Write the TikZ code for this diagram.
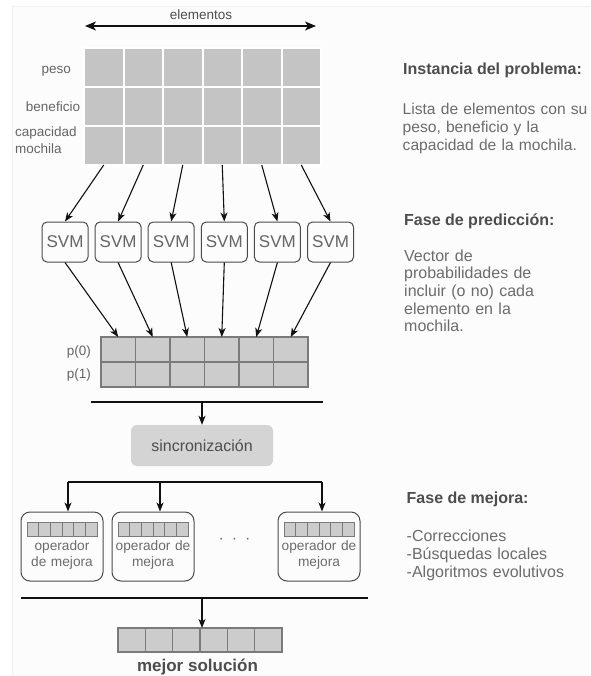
\documentclass[tikz,border=0pt]{standalone}
\usepackage{fontspec}
\setmainfont{Liberation Sans}
\usetikzlibrary{arrows.meta,calc}

\definecolor{gridfill}{HTML}{C4C4C4}
\definecolor{probfill}{HTML}{CCCCCC}
\definecolor{probline}{HTML}{7A7A7A}
\definecolor{syncfill}{HTML}{D4D4D4}
\definecolor{boxline}{HTML}{4A4A4A}
\definecolor{headtext}{HTML}{4D4D4D}
\definecolor{bodytext}{HTML}{6C6C6C}
\definecolor{labeltext}{HTML}{656565}
\definecolor{wire}{HTML}{111111}

\newcommand\setfs[2]{\fontsize{#1}{#2}\selectfont}

\begin{document}
\begin{tikzpicture}[x=1pt,y=-1pt,
  arr/.style={draw=wire,line width=1.1pt,-{Stealth[length=9pt,width=7pt,inset=2.5pt]}},
  bar/.style={draw=wire,line width=1.1pt},
  gcell/.style={fill=gridfill,draw=white,line width=2pt,minimum width=39.5pt,
    minimum height=39pt,inner sep=0pt,outer sep=0pt},
  pcell/.style={fill=probfill,draw=probline,line width=1.4pt,minimum width=34.5pt,
    minimum height=25pt,inner sep=0pt,outer sep=0pt},
  scell/.style={fill=probfill,draw=probline,line width=1.4pt,minimum width=27.33pt,
    minimum height=24pt,inner sep=0pt,outer sep=0pt},
  mini/.style={fill=probfill,draw=probline,line width=1pt},
  svmbox/.style={draw=boxline,line width=1pt,rounded corners=5pt,minimum width=46pt,
    minimum height=40pt,inner sep=0pt,text=labeltext,font=\setfs{17}{20}},
  opbox/.style={draw=boxline,line width=1pt,rounded corners=9pt,minimum width=82pt,
    minimum height=69pt,inner sep=0pt},
  optext/.style={text=bodytext,font=\setfs{13.7}{16},text width=90pt,align=center,
    inner sep=0pt,anchor=base},
  lbl/.style={text=labeltext,font=\setfs{13.5}{16.6},inner sep=0pt},
  head/.style={text=headtext,font=\bfseries\setfs{16}{18},inner sep=0pt,anchor=base west},
  body/.style={text=bodytext,font=\setfs{16}{18},inner sep=0pt,anchor=base west,
    text width=200pt,align=left},
]
\useasboundingbox (0,0) rectangle (590,676);
% faint page panel
\fill[black!1] (12,6) rectangle (590,676);
\draw[black!6,line width=0.8pt] (12,676) -- (12,6) -- (590,6);

% ---------- problem instance ----------
\node[lbl,anchor=base,text=headtext] (elem) at (201,20) {elementos};
\coordinate (elemL) at (85,26);
\coordinate (elemR) at (316,26);
\draw[draw=wire,line width=1.5pt,
  {Stealth[length=11pt,width=9pt,inset=3pt]}-{Stealth[length=11pt,width=9pt,inset=3pt]}]
  (elemL) -- (elemR);

\foreach \r in {1,2,3}{
  \foreach \c in {1,...,6}{
    \node[gcell] (g\r-\c) at ({84+39.5*(\c-0.5)},{48+39*(\r-0.5)}) {};
  }
}
\node[lbl,anchor=base] (lpeso) at (56.3,74) {peso};
\node[lbl,anchor=base] (lben) at (53,111.7) {beneficio};
\node[lbl,anchor=base west,text width=80pt,align=left] (lcap) at (15,136.7)
  {capacidad\\mochila};

% ---------- prediction ----------
\foreach \c in {1,...,6}{
  \node[svmbox] (svm\c) at ({65+53.1*(\c-1)},242) {SVM};
  \draw[arr] (g3-\c.south) -- (svm\c.north);
}

\foreach \c in {1,...,6}{
  \node[pcell] (pa\c) at ({101+34.5*(\c-0.5)},349.5) {};
  \node[pcell] (pb\c) at ({101+34.5*(\c-0.5)},374.5) {};
  \draw[arr] (svm\c.south) -- (pa\c.north);
}
\node[lbl,anchor=base east] (lp0) at (91,355) {p(0)};
\node[lbl,anchor=base east] (lp1) at (91,378.5) {p(1)};

% ---------- synchronisation ----------
\coordinate (b1w) at (91,402);
\coordinate (b1e) at (323,402);
\draw[bar] (b1w) -- (b1e);
\node[fill=syncfill,rounded corners=6pt,minimum width=142pt,minimum height=41pt,
  inner sep=0pt,text=headtext,font=\setfs{16}{18}] (sync) at (202,445.5)
  {sincronización};
\draw[arr] (b1w -| sync.north) -- (sync.north);

% ---------- improvement ----------
\coordinate (b2w) at (68,482);
\coordinate (b2m) at (160,482);
\coordinate (b2e) at (322,482);
\draw[bar] (b2w) -- (b2e);

\node[opbox] (op1) at (62,546.5) {};
\node[opbox] (op2) at (153,546.5) {};
\node[opbox] (op3) at (319,546.5) {};
\draw[arr] (b2w) -- (b2w |- op1.north);
\draw[arr] (b2m) -- (b2m |- op2.north);
\draw[arr] (b2e) -- (b2e |- op3.north);

\foreach \b in {op1,op2,op3}{
  \foreach \i in {0,...,5}{
    \draw[mini] ($(\b.center)+({-35+\i*11.667},-24.5)$) rectangle ++(11.667,14);
  }
}
\node[optext] (op1t) at (62,550) {operador\\de mejora};
\node[optext] (op2t) at (153,550) {operador de\\mejora};
\node[optext] (op3t) at (319,550) {operador de\\mejora};
\node[text=bodytext,font=\setfs{16}{18},inner sep=0pt,anchor=base] (dots) at (234.5,543)
  {·\hspace{8pt}·\hspace{8pt}·};

% ---------- best solution ----------
\coordinate (b3w) at (21,598);
\coordinate (b3m) at (202,598);
\coordinate (b3e) at (368,598);
\draw[bar] (b3w) -- (b3e);
\foreach \c in {1,...,6}{
  \node[scell] (s\c) at ({118+27.33*(\c-0.5)},640) {};
}
\draw[arr] (b3m) -- (b3m |- s1.north);
\node[text=headtext,font=\bfseries\setfs{17}{20},inner sep=0pt,anchor=base] (best)
  at (197.5,671.5) {mejor solución};

% ---------- descriptions ----------
\node[head] (h1) at (403,75) {Instancia del problema:};
\node[body,font=\setfs{15.6}{18}] (t1) at (402.5,115)
  {Lista de elementos con su\\peso, beneficio y la\\capacidad de la mochila.};

\node[head] (h2) at (404,225) {Fase de predicción:};
\node[body,font=\setfs{16}{17.7}] (t2) at (404,261)
  {Vector de\\probabilidades de\\incluir (o no) cada\\elemento en la\\mochila.};

\node[head] (h3) at (406.5,503) {Fase de mejora:};
\node[body] (t3) at (406.5,541)
  {-Correcciones\\-Búsquedas locales\\-Algoritmos evolutivos};
\end{tikzpicture}
\end{document}
